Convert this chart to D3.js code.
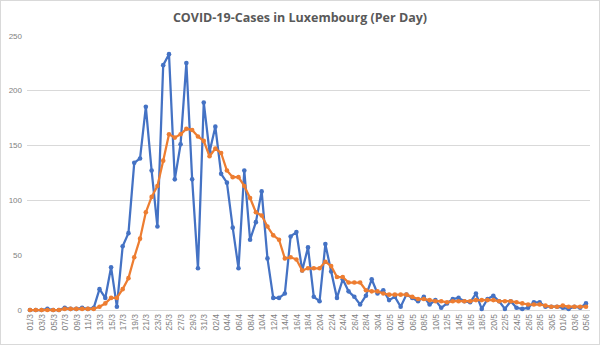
<!DOCTYPE html>
<html><head><meta charset="utf-8">
<script src="https://cdn.jsdelivr.net/npm/d3@7"></script>
<style>body{margin:0;background:#fff}svg{display:block}</style>
</head><body>
<svg id="c" width="600" height="345"></svg>
<script>
const title = "COVID-19-Cases in Luxembourg (Per Day)";
const startDate = "2020-03-01";
const dayCount = 97;
const dailyCases = [0,0,0,1,0,0,2,1,1,2,1,2,19,11,39,3,58,70,134,138,185,127,76,223,233,119,151,225,119,38,189,144,167,124,116,75,38,127,64,80,108,47,11,11,15,67,71,36,57,12,8,60,35,11,28,17,12,5,13,28,15,18,9,12,3,14,11,8,12,5,9,2,6,10,11,8,7,15,1,10,13,8,1,8,2,1,2,7,7,3,3,3,2,1,3,2,6];
const avgCases = [0,0,0,0,0,0,1,1,1,1,1,1,3,6,11,11,19,29,48,65,89,103,113,136,160,157,160,165,164,158,154,140,147,143,127,121,121,113,102,89,86,76,68,64,47,48,46,36,38,38,38,44,40,30,30,25,25,25,18,17,17,15,14,14,14,14,12,10,10,9,8,8,7,8,8,8,8,9,9,9,9,8,8,8,7,6,5,5,5,4,3,3,4,3,3,3,3];
const yTicks = [0,50,100,150,200,250];
const gridTicks = [100,150,200];

const parse = d3.timeParse("%Y-%m-%d");
const fmt = d3.timeFormat("%d/%-m");
const d0 = parse(startDate);
const dates = d3.range(dayCount).map(i => d3.timeDay.offset(d0, i));

const svg = d3.select("#c");
svg.append("rect").attr("x",0.5).attr("y",0.5).attr("width",599).attr("height",344)
  .attr("fill","#fff").attr("stroke","#d9d9d9");

const x = d3.scalePoint().domain(d3.range(dayCount)).range([30, 586]);
const y = d3.scaleLinear().domain([0,250]).range([310, 35.5]);

svg.append("text").attr("x",300).attr("y",22).attr("text-anchor","middle")
  .attr("font-family","'Open Sans', 'Liberation Sans', sans-serif").attr("font-weight","bold")
  .attr("font-size",12.5).attr("fill","#595959").text(title);

svg.append("g").selectAll("line").data(gridTicks).join("line")
  .attr("x1",27).attr("x2",590).attr("y1",d=>Math.round(y(d))+0.5).attr("y2",d=>Math.round(y(d))+0.5)
  .attr("stroke","#d9d9d9").attr("stroke-width",1);

const yAxis = svg.append("g").attr("transform","translate(22,0)")
  .call(d3.axisLeft(y).tickValues(yTicks).tickSize(0).tickPadding(0));
yAxis.select(".domain").remove();
yAxis.selectAll("text").attr("font-family","'Liberation Sans', sans-serif").attr("font-size",8).attr("fill","#7f7f7f");

svg.append("line").attr("x1",27).attr("x2",590).attr("y1",310.5).attr("y2",310.5).attr("stroke","#d9d9d9");

const xAxis = svg.append("g").attr("transform","translate(0,313)")
  .call(d3.axisBottom(x).tickValues(d3.range(0,dayCount,2)).tickSize(0).tickFormat(i=>fmt(dates[i])));
xAxis.select(".domain").remove();
xAxis.selectAll(".tick text").attr("font-family","'Liberation Sans', sans-serif").attr("font-size",8.5).attr("fill","#7f7f7f")
  .attr("transform","rotate(-90)").attr("text-anchor","end").attr("x",-1).attr("y",0).attr("dy","0.35em");

function drawSeries(data, color){
  const line = d3.line().x((d,i)=>x(i)).y(d=>y(d));
  svg.append("path").datum(data).attr("d",line).attr("fill","none").attr("stroke",color)
    .attr("stroke-width",2.25).attr("stroke-linejoin","round");
  svg.append("g").selectAll("circle").data(data).join("circle")
    .attr("cx",(d,i)=>x(i)).attr("cy",d=>y(d)).attr("r",2.3).attr("fill",color);
}
drawSeries(dailyCases, "#4472C4");
drawSeries(avgCases, "#ED7D31");
</script>
</body></html>
